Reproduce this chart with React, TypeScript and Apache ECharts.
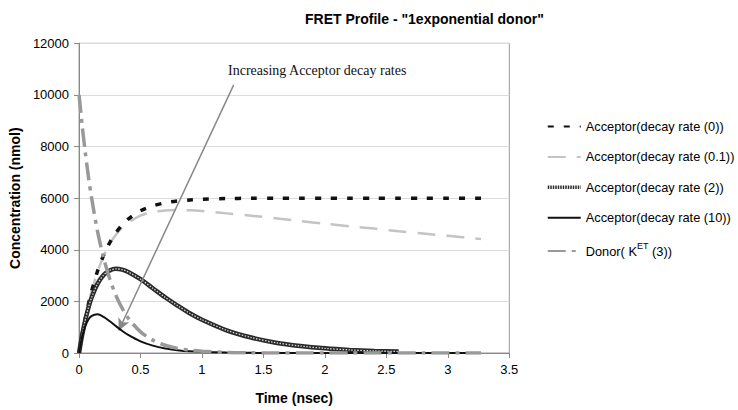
import React, { useEffect, useRef } from "react";
import * as echarts from "echarts";

// Time grid (nsec)
const times = [0, 0.025, 0.05, 0.075, 0.1, 0.15, 0.2, 0.25, 0.3, 0.35, 0.4, 0.5, 0.6, 0.7, 0.8, 0.9, 1.0, 1.2, 1.4, 1.6, 1.8, 2.0, 2.2, 2.4, 2.6, 2.8, 3.0, 3.27];

// Concentrations (nmol)
const acceptor0 = [0, 700, 1320, 1870, 2360, 3170, 3790, 4280, 4660, 4960, 5190, 5510, 5700, 5820, 5890, 5930, 5960, 5985, 5995, 6000, 6000, 6000, 6000, 6000, 6000, 6000, 6000, 6000];
const acceptor01 = [0, 700, 1320, 1870, 2350, 3140, 3750, 4220, 4580, 4850, 5050, 5320, 5460, 5520, 5540, 5530, 5500, 5410, 5320, 5220, 5110, 5010, 4910, 4820, 4720, 4630, 4540, 4420];
const acceptor2 = [0, 690, 1260, 1730, 2120, 2680, 3020, 3200, 3260, 3230, 3140, 2860, 2510, 2160, 1840, 1540, 1290, 880, 600, 400, 270, 180, 120, 80, 55, null, null, null];
const acceptor10 = [0, 620, 1030, 1290, 1430, 1500, 1400, 1230, 1040, 860, 700, 450, 285, 175, 110, 65, 40, 15, 5, 0, 0, 0, 0, 0, 0, 0, 0, 0];
const donor = [10000, 8830, 7800, 6880, 6070, 4720, 3680, 2870, 2230, 1740, 1350, 820, 500, 300, 180, 110, 70, 25, 10, 0, 0, 0, 0, 0, 0, 0, 0, 0];

const seriesNames = [
  "Acceptor(decay rate (0))",
  "Acceptor(decay rate (0.1))",
  "Acceptor(decay rate (2))",
  "Acceptor(decay rate (10))",
  "Donor( K ET (3))",
];

// Annotation arrow (data coordinates)
const arrowStart = [1.258, 10390];
const arrowEnd = [0.323, 870];
const annotationText = "Increasing Acceptor decay rates";

const pair = (vals: (number | null)[]) =>
  times.map((t, i) => (vals[i] === null ? null : [t, vals[i]])).filter((d) => d !== null);

const FONT = "'Liberation Sans', Arial, sans-serif";

export default function App() {
  const ref = useRef<HTMLDivElement>(null);
  useEffect(() => {
    if (!ref.current) return;
    const chart = echarts.init(ref.current, null, { renderer: "svg" });
    const option: any = {
      animation: false,
      backgroundColor: "#ffffff",
      textStyle: { fontFamily: FONT },
      title: {
        text: 'FRET Profile - "1exponential donor"',
        left: 300,
        top: 7,
        textStyle: { fontFamily: FONT, fontSize: 14, fontWeight: "bold", color: "#000" },
      },
      grid: {
        left: 76.7,
        right: 228.7,
        top: 43.3,
        bottom: 56.7,
        show: true,
        borderColor: "#999",
        borderWidth: 1,
      },
      legend: {
        orient: "vertical",
        left: 546,
        top: 120,
        padding: 0,
        itemWidth: 33,
        itemHeight: 14,
        itemGap: 17.4,
        itemStyle: { opacity: 0 },
        data: [
          { name: seriesNames[0] },
          { name: seriesNames[1] },
          { name: seriesNames[2], lineStyle: { color: "#2a2a2a", width: 3.5, type: [1.5, 1] } },
          { name: seriesNames[3] },
          { name: seriesNames[4] },
        ],
        formatter: (name: string) =>
          name === seriesNames[4] ? "Donor( K{sup|ET} (3))" : name,
        textStyle: {
          fontFamily: FONT,
          fontSize: 12.8,
          color: "#000",
          rich: {
            sup: { fontFamily: FONT, fontSize: 9, color: "#000", padding: [0, 0, 10, 0] },
          },
        },
      },
      xAxis: {
        type: "value",
        min: 0,
        max: 3.5,
        interval: 0.5,
        name: "Time (nsec)",
        nameLocation: "middle",
        nameGap: 38,
        nameTextStyle: { fontFamily: FONT, fontSize: 14, fontWeight: "bold", color: "#000" },
        axisLine: { lineStyle: { color: "#888", width: 1 } },
        axisTick: { show: true, length: 5, lineStyle: { color: "#888" } },
        axisLabel: { fontFamily: FONT, fontSize: 13, color: "#000", margin: 10 },
        splitLine: { show: false },
      },
      yAxis: {
        type: "value",
        min: 0,
        max: 12000,
        interval: 2000,
        name: "Concentration (nmol)",
        nameLocation: "middle",
        nameGap: 52,
        nameTextStyle: { fontFamily: FONT, fontSize: 14, fontWeight: "bold", color: "#000" },
        axisLine: { show: true, lineStyle: { color: "#888", width: 1 } },
        axisTick: { show: true, length: 5, lineStyle: { color: "#888" } },
        axisLabel: {
          fontFamily: FONT,
          fontSize: 13,
          color: "#000",
          margin: 10,
          formatter: (v: number) => String(v),
        },
        splitLine: { show: true, lineStyle: { color: "#dcdcdc", width: 1 } },
      },
      series: [
        {
          name: seriesNames[0],
          type: "line",
          data: pair(acceptor0),
          symbol: "none",
          smooth: 0.3,
          lineStyle: { color: "#111", width: 3.5, type: [6, 10], cap: "butt" },
          itemStyle: { color: "#111" },
          z: 3,
        },
        {
          name: seriesNames[1],
          type: "line",
          data: pair(acceptor01),
          symbol: "none",
          smooth: 0.3,
          lineStyle: { color: "#c4c4c4", width: 2.5, type: [18, 11], cap: "butt" },
          itemStyle: { color: "#c4c4c4" },
          z: 2,
        },
        {
          name: seriesNames[2],
          type: "line",
          data: pair(acceptor2),
          symbol: "none",
          smooth: 0.3,
          lineStyle: { color: "#2a2a2a", width: 4.5, cap: "butt" },
          itemStyle: { color: "#2a2a2a" },
          z: 4,
        },
        {
          name: "a2-core",
          type: "line",
          data: pair(acceptor2),
          symbol: "none",
          smooth: 0.3,
          silent: true,
          lineStyle: { color: "#d8d8d8", width: 1.3, type: [1.5, 1.5], cap: "butt" },
          itemStyle: { color: "#d8d8d8" },
          z: 4,
        },
        {
          name: seriesNames[3],
          type: "line",
          data: pair(acceptor10),
          symbol: "none",
          smooth: 0.3,
          lineStyle: { color: "#111", width: 2 },
          itemStyle: { color: "#111" },
          z: 5,
          markLine: {
            silent: true,
            symbol: ["none", "arrow"],
            symbolSize: [9, 12],
            label: { show: false },
            lineStyle: { color: "#888", width: 1.5, type: "solid" },
            data: [[{ coord: arrowStart }, { coord: arrowEnd }]],
          },
        },
        {
          name: seriesNames[4],
          type: "line",
          data: pair(donor),
          symbol: "none",
          smooth: 0.3,
          lineStyle: { color: "#999", width: 3.5, type: [18, 6, 4, 6], cap: "butt" },
          itemStyle: { color: "#999" },
          z: 6,
        },
      ],
      graphic: [
        {
          type: "text",
          left: 228,
          top: 63,
          style: {
            text: annotationText,
            font: "14px 'Liberation Serif', 'Times New Roman', serif",
            fill: "#111",
          },
        },
      ],
    };
    chart.setOption(option);
    return () => chart.dispose();
  }, []);
  return (
    <div
      ref={ref}
      style={{ position: "fixed", left: 0, top: 0, width: 738, height: 410 }}
    />
  );
}
